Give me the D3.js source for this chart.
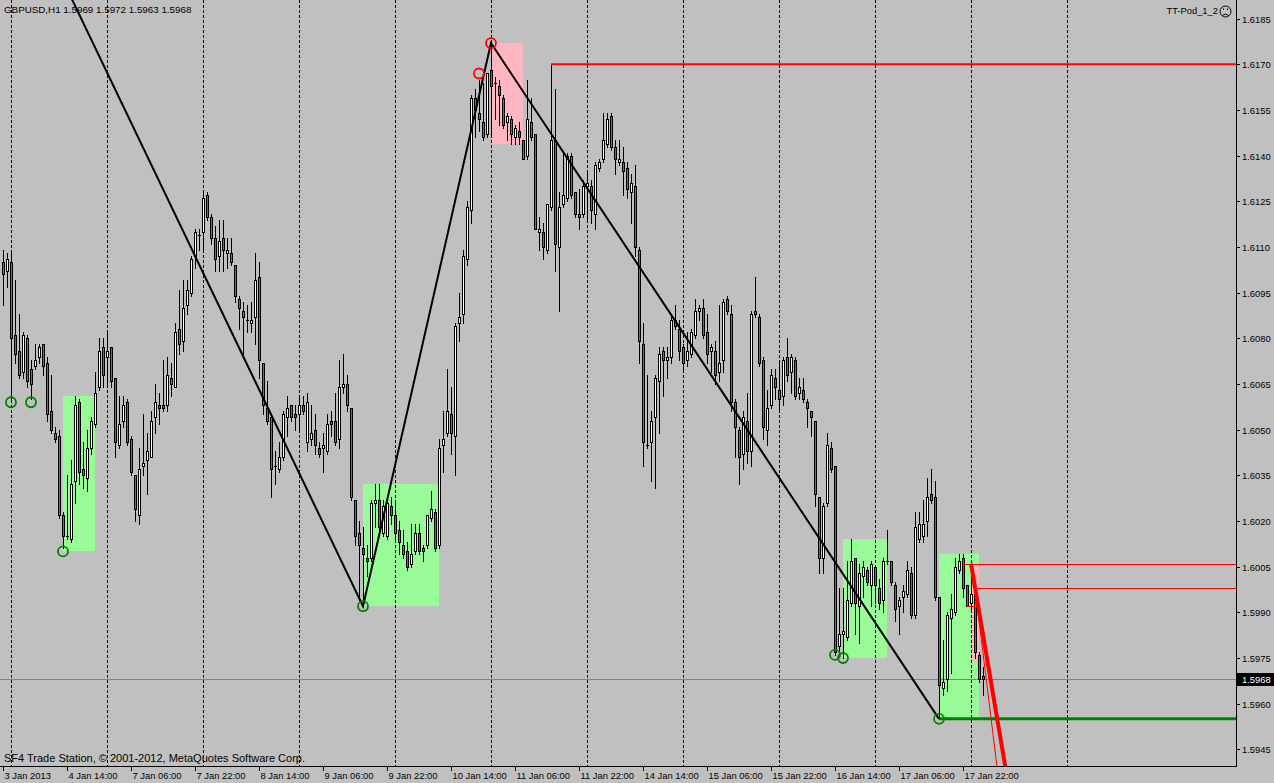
<!DOCTYPE html>
<html><head><meta charset="utf-8">
<script src="https://cdn.jsdelivr.net/npm/d3@7"></script>
<style>
body{margin:0;background:#c0c0c0;overflow:hidden}
svg{display:block}
text{font-family:"Liberation Sans",Arial,sans-serif;font-size:9.4px;fill:#000}
</style></head>
<body><svg id="chart" width="1274" height="783"></svg>
<script>
// ---------------- data ----------------
const symbolTitle = "GBPUSD,H1";
const headerValues = ["1.5969", "1.5972", "1.5963", "1.5968"];
const indicatorName = "TT-Pod_1_2";
const copyright = "SF4 Trade Station, \u00A9 2001-2012, MetaQuotes Software Corp.";

const opens = [
1.6105,1.6102,1.6105,1.6081,1.6076,1.6069,1.6080,1.6070,1.6071,1.6074,
1.6078,1.6072,1.6056,1.6049,1.6048,1.6022,1.6015,1.6014,1.6033,1.6059,
1.6037,1.6034,1.6044,1.6052,1.6064,1.6077,1.6074,1.6077,1.6067,1.6045,
1.6053,1.6059,1.6047,1.6035,1.6022,1.6038,1.6040,1.6041,1.6054,1.6058,
1.6058,1.6058,1.6067,1.6064,1.6083,1.6079,1.6091,1.6095,1.6107,1.6114,
1.6115,1.6127,1.6120,1.6113,1.6107,1.6113,1.6108,1.6108,1.6104,1.6093,
1.6089,1.6086,1.6085,1.6087,1.6100,1.6072,1.6057,1.6054,1.6038,1.6037,
1.6041,1.6054,1.6058,1.6055,1.6055,1.6058,1.6046,1.6047,1.6050,1.6044,
1.6044,1.6043,1.6053,1.6053,1.6047,1.6064,1.6065,1.6057,1.6027,1.6016,
1.6011,1.6008,1.6008,1.6026,1.6027,1.6016,1.6015,1.6025,1.6022,1.6017,
1.6012,1.6010,1.6006,1.6010,1.6016,1.6011,1.6012,1.6021,1.6023,1.6012,
1.6045,1.6049,1.6055,1.6048,1.6085,1.6088,1.6106,1.6122,1.6159,1.6154,
1.6151,1.6147,1.6168,1.6164,1.6163,1.6159,1.6151,1.6152,1.6146,1.6148,
1.6145,1.6140,1.6151,1.6147,1.6115,1.6115,1.6109,1.6123,1.6145,1.6110,
1.6124,1.6126,1.6140,1.6128,1.6121,1.6121,1.6130,1.6130,1.6121,1.6136,
1.6139,1.6144,1.6153,1.6143,1.6138,1.6138,1.6136,1.6128,1.6130,1.6109,
1.6078,1.6045,1.6046,1.6054,1.6066,1.6076,1.6073,1.6074,1.6086,1.6083,
1.6077,1.6073,1.6075,1.6081,1.6089,1.6090,1.6082,1.6076,1.6076,1.6069,
1.6073,1.6093,1.6088,1.6059,1.6050,1.6042,1.6053,1.6043,1.6089,1.6087,
1.6073,1.6050,1.6058,1.6067,1.6063,1.6061,1.6074,1.6069,1.6073,1.6062,
1.6063,1.6059,1.6056,1.6053,1.6028,1.6008,1.6026,1.6044,1.6038,1.5979,
1.5983,1.5982,1.5993,1.6008,1.5992,1.6002,1.6004,1.5999,1.6005,1.5998,
1.5994,1.6007,1.6007,1.5999,1.5992,1.5995,1.5996,1.6003,1.5989,1.6014,
1.6015,1.6020,1.6029,1.6028,1.5995,1.5965,1.5968,1.5988,1.5990,1.6004,
1.6008,1.5999,1.5993,1.5996,1.5976,1.5969];
const highs = [
1.6109,1.6108,1.6108,1.6099,1.6088,1.6082,1.6081,1.6073,1.6078,1.6078,
1.6078,1.6074,1.6068,1.6051,1.6050,1.6023,1.6035,1.6040,1.6061,1.6060,
1.6046,1.6050,1.6054,1.6069,1.6080,1.6080,1.6082,1.6077,1.6067,1.6061,
1.6061,1.6060,1.6048,1.6035,1.6044,1.6055,1.6049,1.6056,1.6065,1.6062,
1.6073,1.6074,1.6072,1.6085,1.6096,1.6099,1.6099,1.6107,1.6116,1.6116,
1.6128,1.6128,1.6121,1.6117,1.6119,1.6119,1.6113,1.6113,1.6104,1.6094,
1.6092,1.6091,1.6092,1.6108,1.6105,1.6072,1.6066,1.6054,1.6043,1.6046,
1.6056,1.6061,1.6058,1.6058,1.6061,1.6061,1.6062,1.6058,1.6055,1.6046,
1.6049,1.6055,1.6056,1.6062,1.6073,1.6075,1.6068,1.6057,1.6027,1.6020,
1.6018,1.6012,1.6027,1.6032,1.6032,1.6027,1.6028,1.6028,1.6027,1.6020,
1.6017,1.6013,1.6019,1.6019,1.6019,1.6012,1.6022,1.6030,1.6024,1.6047,
1.6056,1.6070,1.6064,1.6085,1.6095,1.6109,1.6125,1.6160,1.6162,1.6165,
1.6164,1.6167,1.6177,1.6166,1.6165,1.6160,1.6154,1.6153,1.6150,1.6151,
1.6145,1.6165,1.6159,1.6147,1.6120,1.6118,1.6124,1.6170,1.6162,1.6128,
1.6141,1.6141,1.6141,1.6128,1.6129,1.6132,1.6135,1.6132,1.6138,1.6139,
1.6154,1.6154,1.6154,1.6145,1.6145,1.6143,1.6138,1.6134,1.6137,1.6110,
1.6085,1.6068,1.6056,1.6068,1.6077,1.6077,1.6077,1.6087,1.6091,1.6086,
1.6078,1.6082,1.6083,1.6093,1.6091,1.6093,1.6088,1.6078,1.6079,1.6091,
1.6093,1.6094,1.6091,1.6060,1.6051,1.6056,1.6062,1.6089,1.6100,1.6088,
1.6074,1.6063,1.6070,1.6070,1.6073,1.6074,1.6080,1.6075,1.6074,1.6067,
1.6067,1.6060,1.6056,1.6053,1.6028,1.6026,1.6049,1.6046,1.6038,1.5998,
1.5998,1.6007,1.6014,1.6008,1.6006,1.6007,1.6005,1.6007,1.6005,1.6001,
1.6008,1.6017,1.6007,1.6000,1.5995,1.5999,1.6007,1.6005,1.6023,1.6023,
1.6027,1.6034,1.6037,1.6033,1.5995,1.5981,1.5990,1.5996,1.6008,1.6009,
1.6009,1.5999,1.6006,1.5997,1.5977,1.5972];
const lows = [
1.6091,1.6097,1.6060,1.6072,1.6067,1.6067,1.6064,1.6060,1.6070,1.6072,
1.6068,1.6053,1.6049,1.6046,1.6021,1.6011,1.6014,1.6013,1.6026,1.6032,
1.6031,1.6030,1.6042,1.6051,1.6063,1.6064,1.6064,1.6064,1.6041,1.6044,
1.6051,1.6045,1.6035,1.6020,1.6019,1.6035,1.6029,1.6041,1.6049,1.6052,
1.6056,1.6056,1.6061,1.6064,1.6075,1.6076,1.6088,1.6094,1.6103,1.6109,
1.6109,1.6119,1.6111,1.6102,1.6102,1.6102,1.6103,1.6104,1.6092,1.6083,
1.6074,1.6082,1.6082,1.6078,1.6067,1.6055,1.6052,1.6028,1.6032,1.6036,
1.6040,1.6048,1.6053,1.6050,1.6050,1.6055,1.6043,1.6045,1.6042,1.6041,
1.6036,1.6042,1.6048,1.6045,1.6044,1.6062,1.6056,1.6027,1.6012,1.5994,
1.5992,1.6002,1.6007,1.6018,1.6016,1.6015,1.6014,1.6019,1.6013,1.6009,
1.6008,1.6004,1.6005,1.6009,1.6009,1.6007,1.6011,1.6020,1.6010,1.6011,
1.6036,1.6048,1.6042,1.6035,1.6079,1.6085,1.6104,1.6118,1.6146,1.6148,
1.6145,1.6146,1.6146,1.6152,1.6150,1.6149,1.6145,1.6144,1.6144,1.6144,
1.6139,1.6139,1.6145,1.6116,1.6109,1.6106,1.6108,1.6122,1.6102,1.6089,
1.6123,1.6125,1.6126,1.6120,1.6116,1.6120,1.6119,1.6118,1.6116,1.6135,
1.6138,1.6143,1.6142,1.6134,1.6137,1.6127,1.6126,1.6118,1.6107,1.6072,
1.6038,1.6044,1.6033,1.6031,1.6049,1.6061,1.6067,1.6072,1.6083,1.6073,
1.6070,1.6071,1.6074,1.6080,1.6086,1.6080,1.6072,1.6069,1.6065,1.6066,
1.6069,1.6088,1.6056,1.6041,1.6032,1.6037,1.6039,1.6038,1.6087,1.6071,
1.6047,1.6045,1.6057,1.6060,1.6056,1.6058,1.6066,1.6062,1.6060,1.6060,
1.6059,1.6051,1.6048,1.6025,1.6003,1.6003,1.6025,1.6036,1.5976,1.5977,
1.5975,1.5981,1.5992,1.5983,1.5980,1.5995,1.5999,1.5992,1.5993,1.5991,
1.5990,1.6006,1.5999,1.5987,1.5983,1.5990,1.5995,1.5988,1.5988,1.6013,
1.6013,1.6015,1.6026,1.5994,1.5955,1.5963,1.5964,1.5970,1.5989,1.6003,
1.5995,1.5992,1.5991,1.5975,1.5967,1.5963];
const closes = [
1.6101,1.6106,1.6080,1.6075,1.6068,1.6081,1.6066,1.6065,1.6073,1.6077,
1.6071,1.6055,1.6050,1.6047,1.6022,1.6015,1.6015,1.6032,1.6058,1.6036,
1.6035,1.6044,1.6053,1.6062,1.6076,1.6068,1.6076,1.6066,1.6046,1.6052,
1.6058,1.6046,1.6036,1.6024,1.6037,1.6039,1.6043,1.6053,1.6059,1.6057,
1.6057,1.6068,1.6065,1.6082,1.6078,1.6090,1.6096,1.6106,1.6115,1.6114,
1.6126,1.6120,1.6113,1.6106,1.6112,1.6109,1.6109,1.6105,1.6094,1.6090,
1.6087,1.6086,1.6086,1.6099,1.6073,1.6058,1.6053,1.6037,1.6038,1.6041,
1.6055,1.6057,1.6054,1.6054,1.6058,1.6056,1.6059,1.6049,1.6045,1.6042,
1.6045,1.6052,1.6052,1.6046,1.6064,1.6065,1.6058,1.6028,1.6015,1.6012,
1.6009,1.6007,1.6026,1.6027,1.6018,1.6025,1.6026,1.6022,1.6016,1.6013,
1.6009,1.6005,1.6009,1.6016,1.6010,1.6010,1.6022,1.6024,1.6011,1.6044,
1.6047,1.6056,1.6049,1.6084,1.6087,1.6107,1.6123,1.6159,1.6155,1.6152,
1.6146,1.6167,1.6163,1.6164,1.6160,1.6150,1.6153,1.6147,1.6149,1.6146,
1.6139,1.6152,1.6146,1.6116,1.6116,1.6110,1.6124,1.6145,1.6111,1.6123,
1.6127,1.6140,1.6127,1.6121,1.6120,1.6130,1.6131,1.6122,1.6137,1.6138,
1.6145,1.6152,1.6143,1.6139,1.6139,1.6135,1.6129,1.6131,1.6110,1.6079,
1.6046,1.6045,1.6053,1.6067,1.6075,1.6073,1.6074,1.6086,1.6084,1.6076,
1.6072,1.6076,1.6082,1.6089,1.6090,1.6081,1.6075,1.6077,1.6068,1.6072,
1.6092,1.6089,1.6059,1.6051,1.6041,1.6054,1.6043,1.6088,1.6088,1.6072,
1.6051,1.6057,1.6068,1.6064,1.6060,1.6073,1.6068,1.6074,1.6061,1.6064,
1.6060,1.6057,1.6054,1.6029,1.6008,1.6025,1.6045,1.6037,1.5977,1.5983,
1.5984,1.5994,1.6007,1.5993,1.6003,1.6005,1.6000,1.6006,1.5999,1.5993,
1.6007,1.6007,1.6000,1.5991,1.5994,1.5997,1.6004,1.5989,1.6018,1.6019,
1.6019,1.6028,1.6027,1.5995,1.5966,1.5967,1.5989,1.5991,1.6005,1.6007,
1.5998,1.5992,1.5996,1.5977,1.5968,1.5968];

const timeLabels = ["3 Jan 2013","4 Jan 14:00","7 Jan 06:00","7 Jan 22:00","8 Jan 14:00","9 Jan 06:00",
  "9 Jan 22:00","10 Jan 14:00","11 Jan 06:00","11 Jan 22:00","14 Jan 14:00","15 Jan 06:00",
  "15 Jan 22:00","16 Jan 14:00","17 Jan 06:00","17 Jan 22:00"];
const timeLabelBars = [0,16,32,48,64,80,96,112,128,144,160,176,192,208,224,240];
const priceTicks = [1.6185,1.6170,1.6155,1.6140,1.6125,1.6110,1.6095,1.6080,1.6065,1.6050,
  1.6035,1.6020,1.6005,1.5990,1.5975,1.5960,1.5945];
const daySeparatorBars = [2,26,50,74,98,122,146,170,194,218,242,266];
const currentPrice = 1.5968;

// ZigZag pivots (bar index, price)
const zigzagBars = [-10, 90, 122, 234];
const zigzagPrices = [1.6266, 1.5992, 1.6177, 1.5955];

// rectangles: [startBar, endBar, priceTop, priceBottom]
const greenBoxes = [[15,23,1.6061,1.6010],[90,109,1.6032,1.5992],[210,221,1.6014,1.5975],[234,244,1.6009,1.5955]];
const pinkBoxes = [[122,130,1.6177,1.6144],[242,244,1.6006,1.5974]];

// fractal markers
const lowMarkBars = [2,7,15,90,208,210,234];
const lowMarkPrices = [1.6059,1.6059,1.6010,1.5992,1.5976,1.5975,1.5955];
const highMarkBars = [119,122];
const highMarkPrices = [1.6167,1.6177];

// horizontal levels: [startBar, price]
const redLevelThick = [137, 1.6170];
const redLevelsThin = [[240,1.6006],[243,1.5998]];
const redShortSegment = [241,243,1.5992];
const greenLevel = [234, 1.5955];

// red trend lines: [bar1, price1, bar2, price2]
const redTrendThick = [242, 1.6006, 251, 1.5936];
const redTrendThin = [243, 1.5998, 249, 1.5934];

// ---------------- drawing ----------------
const W = 1274, H = 783, plotR = 1236, plotB = 766;
const svg = d3.select("#chart");
svg.append("rect").attr("width",W).attr("height",H).attr("fill","#c0c0c0");

const x = d3.scaleLinear().domain([0, 245]).range([3, 983]);
const y = d3.scaleLinear().domain([1.5945, 1.6185]).range([749.3, 18.7]);

svg.append("defs").append("clipPath").attr("id","plot")
  .append("rect").attr("x",0).attr("y",0).attr("width",plotR).attr("height",plotB);
const g = svg.append("g").attr("clip-path","url(#plot)");

const bars = d3.range(opens.length);

// background rectangles
g.selectAll("rect.gbox").data(greenBoxes).join("rect").attr("class","gbox")
  .attr("x",d=>Math.round(x(d[0]))).attr("width",d=>Math.round(x(d[1]))-Math.round(x(d[0])))
  .attr("y",d=>Math.round(y(d[2]))).attr("height",d=>Math.round(y(d[3]))-Math.round(y(d[2])))
  .attr("fill","#98fb98");
g.selectAll("rect.pbox").data(pinkBoxes).join("rect").attr("class","pbox")
  .attr("x",d=>Math.round(x(d[0]))).attr("width",d=>Math.round(x(d[1]))-Math.round(x(d[0])))
  .attr("y",d=>Math.round(y(d[2]))).attr("height",d=>Math.round(y(d[3]))-Math.round(y(d[2])))
  .attr("fill","#ffb6c1");

// day separators
g.selectAll("line.sep").data(daySeparatorBars).join("line").attr("class","sep")
  .attr("x1",d=>Math.round(x(d))+0.5).attr("x2",d=>Math.round(x(d))+0.5)
  .attr("y1",0).attr("y2",plotB).attr("stroke","#000").attr("stroke-width",1)
  .attr("stroke-dasharray","3,2");

// current bid line
g.append("line").attr("x1",0).attr("x2",plotR)
  .attr("y1",Math.round(y(currentPrice))+0.5).attr("y2",Math.round(y(currentPrice))+0.5)
  .attr("stroke","#808080").attr("stroke-width",1);

// candles
const cg = g.append("g").attr("shape-rendering","crispEdges");
bars.forEach(i=>{
  const px = Math.round(x(i));
  const o = opens[i], c = closes[i];
  const yh = Math.round(y(highs[i])), yl = Math.round(y(lows[i]));
  const top = Math.round(y(Math.max(o,c))), bot = Math.round(y(Math.min(o,c)));
  cg.append("rect").attr("x",px).attr("width",1).attr("y",yh).attr("height",Math.max(1,yl-yh+1)).attr("fill","#000");
  cg.append("rect").attr("x",px-1).attr("width",3).attr("y",top).attr("height",Math.max(1,bot-top+1)).attr("fill","#000");
  if (bot-top >= 2) {
    cg.append("rect").attr("x",px).attr("width",1).attr("y",top+1).attr("height",bot-top-1)
      .attr("fill", c >= o ? "#ffffff" : "#6e6e6e");
  }
});

// horizontal levels
g.append("line").attr("x1",x(redLevelThick[0])).attr("x2",plotR)
  .attr("y1",y(redLevelThick[1])).attr("y2",y(redLevelThick[1]))
  .attr("stroke","#ff0000").attr("stroke-width",2);
g.selectAll("line.rthin").data(redLevelsThin).join("line").attr("class","rthin")
  .attr("x1",d=>x(d[0])).attr("x2",plotR)
  .attr("y1",d=>Math.round(y(d[1]))+0.5).attr("y2",d=>Math.round(y(d[1]))+0.5)
  .attr("stroke","#ff0000").attr("stroke-width",1);
g.append("line").attr("x1",x(redShortSegment[0])).attr("x2",x(redShortSegment[1]))
  .attr("y1",Math.round(y(redShortSegment[2]))+0.5).attr("y2",Math.round(y(redShortSegment[2]))+0.5)
  .attr("stroke","#ff0000").attr("stroke-width",1);
g.append("line").attr("x1",x(greenLevel[0])).attr("x2",plotR)
  .attr("y1",y(greenLevel[1])).attr("y2",y(greenLevel[1]))
  .attr("stroke","#008000").attr("stroke-width",3);

// zigzag
const zz = zigzagBars.map((b,k)=>[x(b), y(zigzagPrices[k])]);
g.append("path").attr("d",d3.line()(zz)).attr("fill","none").attr("stroke","#000").attr("stroke-width",2);

// red trend lines
g.append("line").attr("x1",x(redTrendThick[0])).attr("y1",y(redTrendThick[1]))
  .attr("x2",x(redTrendThick[2])).attr("y2",y(redTrendThick[3]))
  .attr("stroke","#ff0000").attr("stroke-width",4);
g.append("line").attr("x1",x(redTrendThin[0])).attr("y1",y(redTrendThin[1]))
  .attr("x2",x(redTrendThin[2])).attr("y2",y(redTrendThin[3]))
  .attr("stroke","#ff0000").attr("stroke-width",1);

// fractal circles
g.selectAll("circle.lo").data(lowMarkBars).join("circle").attr("class","lo")
  .attr("cx",d=>x(d)).attr("cy",(d,k)=>y(lowMarkPrices[k])).attr("r",5)
  .attr("fill","none").attr("stroke","#008000").attr("stroke-width",1.8);
g.selectAll("circle.hi").data(highMarkBars).join("circle").attr("class","hi")
  .attr("cx",d=>x(d)).attr("cy",(d,k)=>y(highMarkPrices[k])).attr("r",5)
  .attr("fill","none").attr("stroke","#ff0000").attr("stroke-width",1.8);

// axes frame
svg.append("line").attr("x1",plotR+0.5).attr("x2",plotR+0.5).attr("y1",0).attr("y2",plotB+1)
  .attr("stroke","#000");
svg.append("line").attr("x1",0).attr("x2",plotR+1).attr("y1",plotB+0.5).attr("y2",plotB+0.5)
  .attr("stroke","#000");

// price axis
const pa = svg.append("g");
priceTicks.forEach(p=>{
  const yy = Math.round(y(p))+0.5;
  pa.append("line").attr("x1",plotR+1).attr("x2",plotR+4).attr("y1",yy).attr("y2",yy).attr("stroke","#000");
  pa.append("text").attr("x",plotR+6).attr("y",yy+3.5).text(p.toFixed(4));
});
// current price label
const cy0 = Math.round(y(currentPrice));
svg.append("rect").attr("x",plotR+1).attr("y",cy0-6).attr("width",W-plotR-1).attr("height",13).attr("fill","#000");
svg.append("text").attr("x",plotR+6).attr("y",cy0+4).style("fill","#fff").text(currentPrice.toFixed(4));

// time axis
timeLabelBars.forEach((b,k)=>{
  const xx = Math.round(x(b))+0.5;
  svg.append("line").attr("x1",xx).attr("x2",xx).attr("y1",plotB+1).attr("y2",plotB+5).attr("stroke","#000");
  svg.append("text").attr("x",xx+1).attr("y",plotB+13).text(timeLabels[k]);
});

// header texts
svg.append("text").attr("x",4).attr("y",13).style("font-size","9.8px").text(symbolTitle + " " + headerValues.join(" "));
svg.append("text").attr("x",1218).attr("y",14).attr("text-anchor","end").text(indicatorName);
const face = svg.append("g").attr("fill","none").attr("stroke","#000").attr("stroke-width",1);
face.append("circle").attr("cx",1225.5).attr("cy",11.5).attr("r",5.5);
face.append("path").attr("d","M1222.5,15.5 Q1225.5,12.5 1228.5,15.5");
svg.append("rect").attr("x",1223).attr("y",8.5).attr("width",1).attr("height",1.5).attr("fill","#000");
svg.append("rect").attr("x",1227).attr("y",8.5).attr("width",1).attr("height",1.5).attr("fill","#000");
svg.append("text").attr("x",4).attr("y",762).style("font-size","11px").text(copyright);
</script>
</body></html>
